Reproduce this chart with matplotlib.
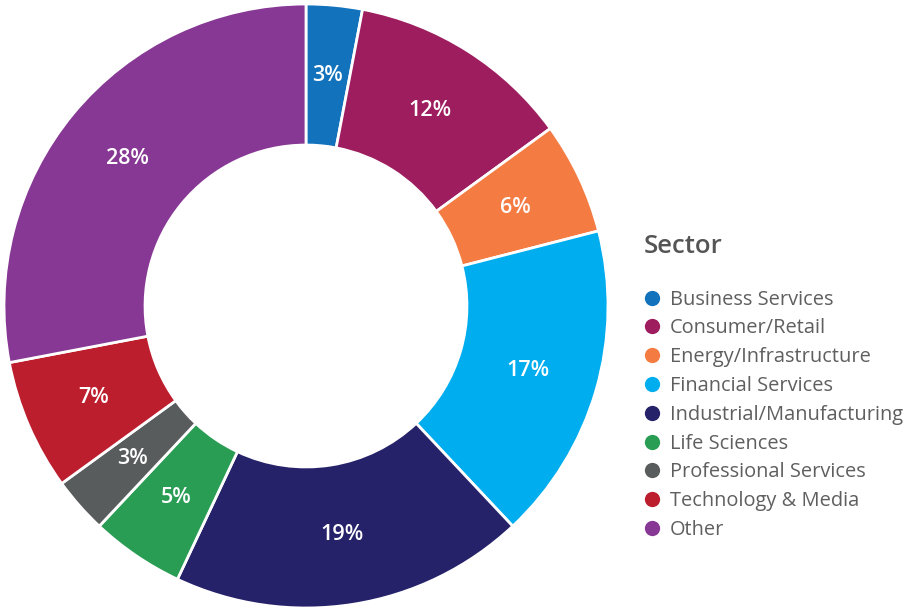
import matplotlib
matplotlib.use('Agg')
import matplotlib.pyplot as plt
from matplotlib.lines import Line2D

sectors = ['Business Services', 'Consumer/Retail', 'Energy/Infrastructure',
           'Financial Services', 'Industrial/Manufacturing', 'Life Sciences',
           'Professional Services', 'Technology & Media', 'Other']
shares = [3, 12, 6, 17, 19, 5, 3, 7, 28]
colors = ['#1272bb', '#9d1d5f', '#f47b42', '#00adee', '#25226a', '#2a9d55',
          '#595c5c', '#bd1e2d', '#873894']

plt.rcParams['font.family'] = ['Open Sans', 'DejaVu Sans']

fig = plt.figure(figsize=(9.09, 6.10), dpi=100)
# donut centred at (306, 306) px, outer radius ~302 px
ax = fig.add_axes([4 / 909, 2 / 610, 604 / 909, 604 / 610])

wedges, texts = ax.pie(shares, colors=colors, startangle=90, counterclock=False,
                       radius=1.0, labels=[f'{v}%' for v in shares],
                       labeldistance=0.766,
                       wedgeprops=dict(width=0.467, edgecolor='white', linewidth=2))
for t in texts:
    t.set_color('white')
    t.set_fontsize(15.5)
    t.set_fontweight('semibold')
    t.set_ha('center')
    t.set_va('center')
ax.set_xlim(-1, 1)
ax.set_ylim(-1, 1)
ax.set_aspect('equal')
ax.axis('off')

handles = [Line2D([], [], marker='o', linestyle='none', markersize=11,
                  markerfacecolor=c, markeredgecolor='none') for c in colors]
leg = fig.legend(handles, sectors, loc='upper left', bbox_to_anchor=(636 / 909, 1 - 226 / 610),
                 frameon=False, title='Sector', alignment='left',
                 fontsize=14.4, title_fontsize=18.5, handlelength=0.8, handletextpad=0.5,
                 labelspacing=0.44, borderaxespad=0)
leg.get_title().set_fontweight('semibold')
leg.get_title().set_color('#555555')
for t in leg.get_texts():
    t.set_color('#5f5f5f')
leg._legend_box.sep = 22

fig.savefig('out.png', dpi=100)
